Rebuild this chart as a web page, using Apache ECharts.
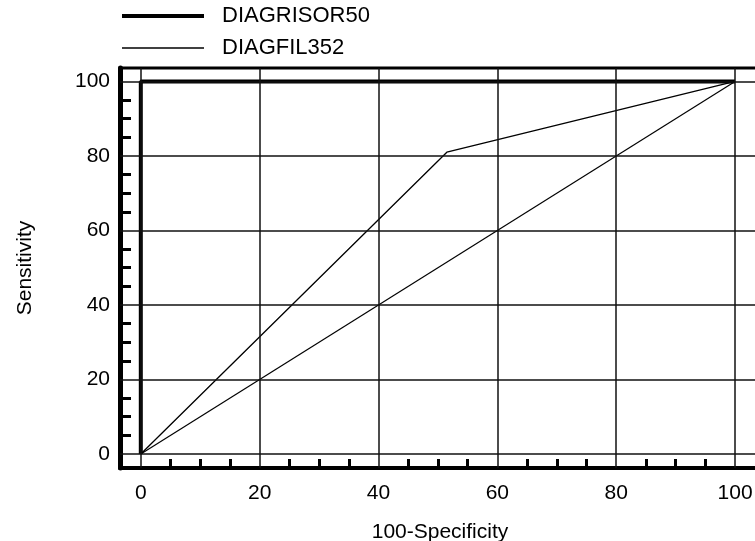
<!DOCTYPE html>
<html lang="en">

<head>
    <meta charset="UTF-8">
    <title>ROC</title>
    <style>
        html, body { margin: 0; padding: 0; background: #fff; }
        #chart { width: 755px; height: 541px; }
    </style>
    <script src="https://cdn.jsdelivr.net/npm/echarts@6/dist/echarts.min.js"></script>
</head>

<body>
    <div id="chart"></div>
    <script>
        // data
        const risorX = [0, 0, 100];
        const risorY = [0, 100, 100];
        const filX = [0, 51.5, 100];
        const filY = [0, 81, 100];
        const diagX = [0, 100];
        const diagY = [0, 100];

        const majorTicks = [0, 20, 40, 60, 80, 100];
        const minorTicks = [5, 10, 15, 25, 30, 35, 45, 50, 55, 65, 70, 75, 85, 90, 95];

        const pairs = (xs, ys) => xs.map((x, i) => [x, ys[i]]);
        const font = 'Liberation Sans, Arial, sans-serif';

        const chart = echarts.init(document.getElementById('chart'));

        const option = {
            animation: false,
            legend: {
                orient: 'vertical',
                left: 120,
                top: 5,
                padding: 0,
                itemWidth: 82,
                itemHeight: 21,
                itemGap: 10,
                itemStyle: { opacity: 0, borderWidth: 0 },
                data: [
                    { name: 'DIAGRISOR50', lineStyle: { width: 4 } },
                    { name: 'DIAGFIL352', lineStyle: { width: 1.3 } }
                ],
                textStyle: { fontSize: 22, color: '#000', fontFamily: font, padding: [0, 0, 0, 13] }
            },
            grid: {
                left: 120,
                right: -5,
                top: 68,
                bottom: 73,
                outerBoundsMode: 'none',
                show: true,
                borderColor: '#000',
                borderWidth: 3
            },
            xAxis: {
                type: 'value',
                min: -3.5,
                max: 104.2,
                name: '100-Specificity',
                nameLocation: 'middle',
                nameGap: 54,
                nameTextStyle: { fontSize: 21, color: '#000', fontFamily: font },
                axisLine: { show: true, onZero: false, lineStyle: { color: '#000', width: 4 } },
                axisTick: { show: true, inside: true, length: 9, customValues: minorTicks, lineStyle: { color: '#000', width: 3 } },
                axisLabel: { customValues: majorTicks, margin: 15, fontSize: 21, color: '#000', fontFamily: font },
                splitLine: { show: false }
            },
            yAxis: {
                type: 'value',
                min: -3.76,
                max: 103.6,
                name: 'Sensitivity',
                nameLocation: 'middle',
                nameGap: 84,
                nameTextStyle: { fontSize: 21, color: '#000', fontFamily: font },
                axisLine: { show: true, onZero: false, lineStyle: { color: '#000', width: 5 } },
                axisTick: { show: true, inside: true, length: 11, customValues: minorTicks, lineStyle: { color: '#000', width: 3 } },
                axisLabel: { customValues: majorTicks, margin: 10, fontSize: 21, color: '#000', fontFamily: font },
                splitLine: { show: false }
            },
            series: [{
                    // grid lines at the major values
                    type: 'line',
                    data: [],
                    z: 1,
                    markLine: {
                        silent: true,
                        symbol: 'none',
                        label: { show: false },
                        lineStyle: { color: '#111', width: 1.5, type: 'solid' },
                        data: majorTicks.map(v => ({ xAxis: v })).concat(majorTicks.map(v => ({ yAxis: v })))
                    }
                },
                {
                    name: 'DIAGRISOR50',
                    type: 'line',
                    symbol: 'none',
                    z: 3,
                    lineStyle: { color: '#000', width: 4 },
                    itemStyle: { color: '#000' },
                    data: pairs(risorX, risorY)
                },
                {
                    name: 'DIAGFIL352',
                    type: 'line',
                    symbol: 'none',
                    z: 3,
                    lineStyle: { color: '#000', width: 1.3 },
                    itemStyle: { color: '#000' },
                    data: pairs(filX, filY)
                },
                {
                    name: 'diagonal',
                    type: 'line',
                    symbol: 'none',
                    z: 2,
                    lineStyle: { color: '#000', width: 1.2 },
                    data: pairs(diagX, diagY)
                }
            ]
        };

        chart.setOption(option);
    </script>
</body>

</html>
